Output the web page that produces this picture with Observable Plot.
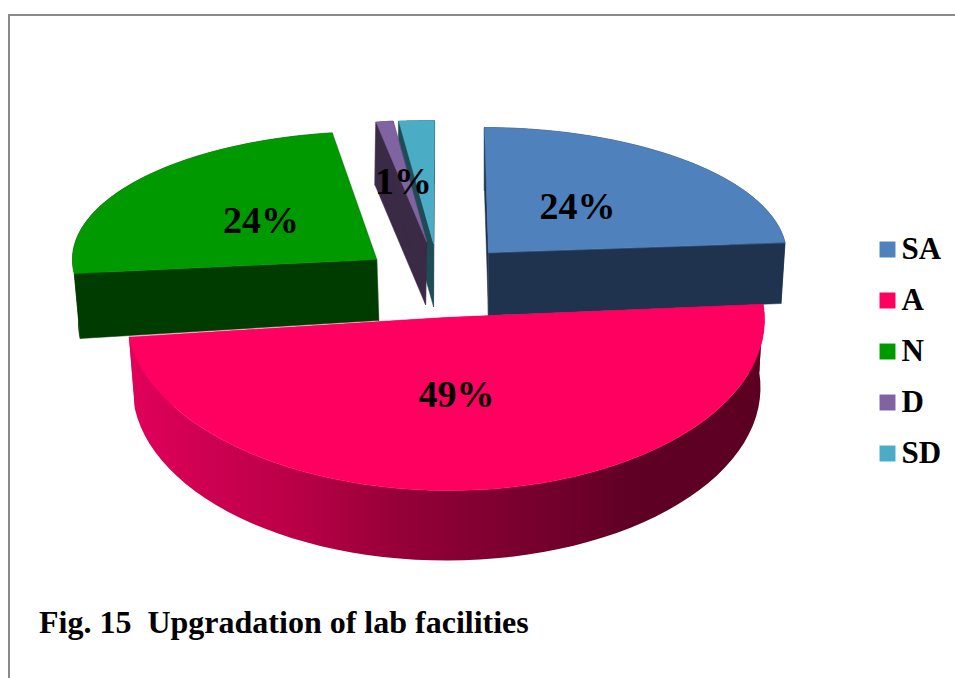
<!DOCTYPE html>
<html>
<head>
<meta charset="utf-8">
<script src="https://cdn.jsdelivr.net/npm/d3@7"></script>
<script src="https://cdn.jsdelivr.net/npm/@observablehq/plot@0.6"></script>
<style>
html,body{margin:0;padding:0;background:#fff;}
#root{position:relative;width:955px;height:678px;overflow:hidden;}
#root svg{display:block;}
#frame{position:absolute;left:8px;top:14px;width:960px;height:680px;border-left:2px solid #8a8a8a;border-top:2px solid #8a8a8a;pointer-events:none;}
#caption{position:absolute;left:39px;top:604px;font:bold 32px "Liberation Serif",serif;color:#000;white-space:pre;}
</style>
</head>
<body>
<div id="root"><div id="frame"></div><div id="caption"></div></div>
<script>
// Data
const categories = ["SA", "A", "N", "D", "SD"];
const shares = [23.6, 49.4, 24.4, 1, 1.6];
const percentLabels = ["24%", "49%", "24%", "1%", ""];
const captionText = "Fig. 15  Upgradation of lab facilities";

// Styling
const topColors = ["#4f81bd", "#ff0060", "#009a00", "#8064a2", "#4bacc6"];
const faceColors = ["#1f334f", "url(#wall)", "#003c00", "#3a2a46", "#1f4b56"];

// 3D projection of each exploded slice: top and bottom ellipses in pixel space
// c: centre, r: radii, s: horizontal skew with depth, t: vertical tilt
const tops = [
  {cx: 488, cy: 252, rx: 298, ry: 125, s: -4, t: 1},
  {cx: 445, cy: 317, rx: 319, ry: 173, s: 0, t: 2},
  {cx: 376, cy: 259, rx: 304, ry: 128, s: 5, t: 2},
  {cx: 426, cy: 241, rx: 274, ry: 121, s: -6, t: 0},
  {cx: 433, cy: 243, rx: 356, ry: 123, s: 1, t: 0}
];
const bottoms = [
  {cx: 488, cy: 315, rx: 294, ry: 125, s: -4, t: -1},
  {cx: 446, cy: 387, rx: 314, ry: 173, s: 0, t: 0},
  {cx: 378, cy: 320, rx: 300, ry: 128, s: 5, t: -2},
  {cx: 425, cy: 304, rx: 274, ry: 121, s: -6, t: 0},
  {cx: 433, cy: 306, rx: 356, ry: 123, s: 1, t: 0}
];

const arcs = d3.pie().sort(null).startAngle(0).endAngle(2 * Math.PI)(shares);
const project = (e, a) => ({
  x: e.cx + e.rx * Math.sin(a) + e.s * Math.cos(a),
  y: e.cy - e.ry * Math.cos(a) + e.t * Math.sin(a)
});
const ring = (e, a0, a1) => d3.range(0, 61).map(i => project(e, a0 + (a1 - a0) * i / 60));
const apex = e => ({x: e.cx, y: e.cy});

const poly = (pts, fill) => Plot.line(pts, {x: "x", y: "y", fill, stroke: fill === "url(#wall)" ? "none" : fill, strokeWidth: 0.5, curve: "linear-closed"});

function sliceMarks(i) {
  const {startAngle: a0, endAngle: a1} = arcs[i];
  const T = tops[i], B = bottoms[i], f = faceColors[i];
  const marks = [];
  // outer wall
  marks.push(poly([...ring(T, a0, a1), ...ring(B, a0, a1).reverse()], f));
  // cut faces
  marks.push(poly([apex(T), project(T, a0), project(B, a0), apex(B)], f));
  marks.push(poly([apex(T), project(T, a1), project(B, a1), apex(B)], f));
  // top surface
  marks.push(poly([apex(T), ...ring(T, a0, a1)], topColors[i]));
  return marks;
}

const gradient = () => {
  const svgNS = "http://www.w3.org/2000/svg";
  const defs = document.createElementNS(svgNS, "defs");
  const g = document.createElementNS(svgNS, "linearGradient");
  g.setAttribute("id", "wall");
  g.setAttribute("gradientUnits", "userSpaceOnUse");
  g.setAttribute("x1", 130); g.setAttribute("x2", 760);
  g.setAttribute("y1", 0); g.setAttribute("y2", 0);
  [[0, "#e0005a"], [0.27, "#b80046"], [0.43, "#950038"], [0.81, "#5e0024"], [1, "#5c0022"]].forEach(([o, c]) => {
    const s = document.createElementNS(svgNS, "stop");
    s.setAttribute("offset", o); s.setAttribute("stop-color", c);
    g.appendChild(s);
  });
  defs.appendChild(g);
  return defs;
};

const labelRows = [
  {x: 577, y: 206, text: percentLabels[0]},
  {x: 456, y: 394, text: percentLabels[1]},
  {x: 260.5, y: 220, text: percentLabels[2]},
  {x: 403, y: 181, text: percentLabels[3]}
];
const legendRows = categories.map((name, i) => ({name, color: topColors[i], y: 249 + 51 * i}));
const font = "Liberation Serif";

const chart = Plot.plot({
  width: 955,
  height: 600,
  margin: 0,
  style: {background: "transparent"},
  x: {domain: [0, 955], range: [0, 955], axis: null},
  y: {domain: [0, 600], range: [0, 600], axis: null},
  marks: [
    gradient,
    // painter's order: back slices first, the big front slice last
    ...sliceMarks(4),
    ...sliceMarks(3),
    ...sliceMarks(2),
    ...sliceMarks(0),
    ...sliceMarks(1),
    Plot.text(labelRows, {x: "x", y: "y", text: "text", fontSize: 38, fontWeight: "bold", fontFamily: font, fill: "#000"}),
    Plot.dot(legendRows, {x: () => 887, y: "y", symbol: "square", r: 9, fill: "color", stroke: "none"}),
    Plot.text(legendRows, {x: () => 901, y: "y", text: "name", textAnchor: "start", fontSize: 31, fontWeight: "bold", fontFamily: font, fill: "#000"})
  ]
});
const root = document.getElementById("root");
root.insertBefore(chart, root.firstChild);
document.getElementById("caption").textContent = captionText;
</script>
</body>
</html>
